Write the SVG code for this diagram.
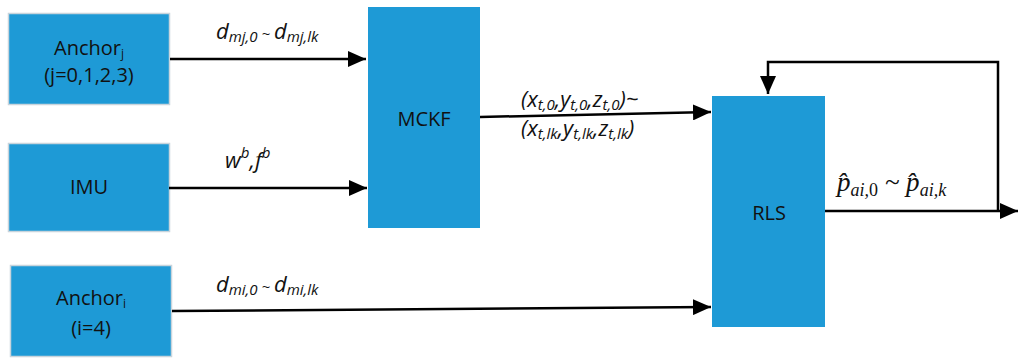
<svg xmlns="http://www.w3.org/2000/svg" width="1018" height="358" viewBox="0 0 1018 358">
<style>
.box{fill:#1E9AD6;stroke:#C8D4DC;stroke-width:1.5}
.bx2{fill:#1E9AD6;stroke:none}
.t{font-family:"Open Sans","Liberation Sans",sans-serif;font-size:20px;fill:#111;text-anchor:middle}
.lab{font-family:"Open Sans","Liberation Sans",sans-serif;font-style:italic;font-size:22px;fill:#111}
.sub{font-size:15px}
.math{font-family:"Liberation Serif",serif;font-style:italic;font-size:27px;fill:#111}
.msub{font-size:18px}
.ln{stroke:#000;stroke-width:2.5;fill:none}
</style>
<defs>
<marker id="a" viewBox="0 0 18 16" refX="18" refY="8" markerWidth="18" markerHeight="16" markerUnits="userSpaceOnUse" orient="auto">
<path d="M0,0 L18,8 L0,16 z" fill="#000"/>
</marker>
</defs>
<g id="anchor_j">
<rect class="box" x="8.5" y="13.5" width="161" height="91"/>
<text class="t" x="89" y="55">Anchor<tspan font-size="12" dy="3">j</tspan></text>
<text class="t" x="89" y="82">(j=0,1,2,3)</text>
</g>
<g id="imu">
<rect class="box" x="8.5" y="143.5" width="161" height="88"/>
<text class="t" x="89" y="194">IMU</text>
</g>
<g id="anchor_i">
<rect class="box" x="10.5" y="265.5" width="161" height="91"/>
<text class="t" x="91" y="305">Anchor<tspan font-size="12" dy="3">i</tspan></text>
<text class="t" x="91" y="335">(i=4)</text>
</g>
<g id="mckf">
<rect class="bx2" x="368" y="7" width="112" height="221"/>
<text class="t" x="424" y="126">MCKF</text>
</g>
<g id="rls">
<rect class="bx2" x="712" y="96" width="113" height="231"/>
<text class="t" x="769" y="220">RLS</text>
</g>
<g id="connectors">
<line class="ln" x1="170" y1="59" x2="366" y2="59" marker-end="url(#a)"/>
<line class="ln" x1="169" y1="188" x2="367" y2="188" marker-end="url(#a)"/>
<line class="ln" x1="480" y1="117" x2="711" y2="112" marker-end="url(#a)"/>
<line class="ln" x1="172" y1="311" x2="711" y2="307" marker-end="url(#a)"/>
<line class="ln" x1="825" y1="211" x2="1018" y2="211" marker-end="url(#a)"/>
<polyline class="ln" points="998,211 998,62 768,62 768,94" marker-end="url(#a)"/>
</g>
<g id="labels">
<text class="lab" x="216" y="39">d<tspan class="sub" dy="3">mj,0</tspan><tspan class="sub" dy="-3"> ~ </tspan>d<tspan class="sub" dy="3">mj,lk</tspan></text>
<text class="lab" x="225" y="168">w<tspan class="sub" dy="-10">b</tspan><tspan dy="10">,f</tspan><tspan class="sub" dy="-10">b</tspan></text>
<text class="lab" x="521" y="107">(x<tspan class="sub" dy="3">t,0</tspan><tspan dy="-3">,y</tspan><tspan class="sub" dy="3">t,0</tspan><tspan dy="-3">,z</tspan><tspan class="sub" dy="3">t,0</tspan><tspan dy="-3">)~</tspan></text>
<text class="lab" x="521" y="136">(x<tspan class="sub" dy="3">t,lk</tspan><tspan dy="-3">,y</tspan><tspan class="sub" dy="3">t,lk</tspan><tspan dy="-3">,z</tspan><tspan class="sub" dy="3">t,lk</tspan><tspan dy="-3">)</tspan></text>
<text class="lab" x="216" y="292">d<tspan class="sub" dy="3">mi,0</tspan><tspan class="sub" dy="-3"> ~ </tspan>d<tspan class="sub" dy="3">mi,lk</tspan></text>
<text class="math" x="837" y="191">p̂<tspan class="msub" dy="5">ai,</tspan><tspan class="msub" font-style="normal">0</tspan><tspan dy="-5"> ~ p̂</tspan><tspan class="msub" dy="5">ai,k</tspan></text>
</g>
</svg>
